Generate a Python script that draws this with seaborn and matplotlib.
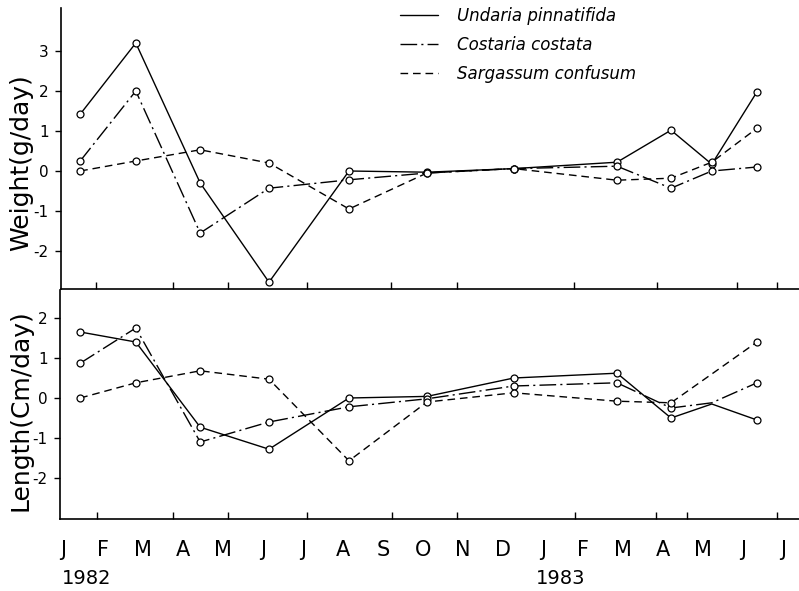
import matplotlib
matplotlib.use("Agg")
import matplotlib.pyplot as plt
import seaborn as sns
import pandas as pd
from matplotlib.lines import Line2D
from matplotlib.transforms import blended_transform_factory

# ---------------- data ----------------
species = ["Undaria pinnatifida", "Costaria costata", "Sargassum confusum"]
# sampling times in months from 1 Jan 1982
sample_month = [0.43, 1.82, 3.43, 5.15, 7.15, 9.1, 11.27, 13.85, 15.2, 16.22, 17.35]

weight_undaria = [1.42, 3.2, -0.3, -2.78, 0.0, -0.03, 0.06, 0.22, 1.02, 0.17, 1.98]
weight_costaria = [0.25, 2.0, -1.55, -0.43, -0.22, -0.05, 0.06, 0.12, -0.43, 0.0, 0.1]
weight_sargassum = [0.0, 0.25, 0.53, 0.2, -0.95, -0.05, 0.06, -0.23, -0.18, 0.22, 1.07]

length_undaria = [1.65, 1.4, -0.73, -1.28, 0.0, 0.04, 0.5, 0.62, -0.5, -0.15, -0.55]
length_costaria = [0.87, 1.75, -1.1, -0.6, -0.22, -0.02, 0.3, 0.38, -0.25, -0.12, 0.38]
length_sargassum = [0.0, 0.38, 0.68, 0.47, -1.57, -0.1, 0.13, -0.08, -0.12, 0.6, 1.4]

month_labels = ["J", "F", "M", "A", "M", "J", "J", "A", "S", "O", "N", "D",
                "J", "F", "M", "A", "M", "J", "J"]
year_labels = ["1982", "1983"]
year_pos = [0.6, 12.45]

weight_ticks = [3, 2, 1, 0, -1, -2]
length_ticks = [2, 1, 0, -1, -2]
weight_minor_x = [0.82, 2.75, 4.12, 6.1, 8.2, 9.85, 12.78, 14.85, 16.85, 17.85]
length_minor_x = [0.85, 2.75, 4.12, 6.1, 8.22, 9.85, 12.8, 14.82, 15.6, 17.85]


def long_df(u, c, s):
    rows = []
    for name, vals in zip(species, [u, c, s]):
        for m, v in zip(sample_month, vals):
            rows.append({"month": m, "value": v, "species": name})
    return pd.DataFrame(rows)


df_w = long_df(weight_undaria, weight_costaria, weight_sargassum)
df_l = long_df(length_undaria, length_costaria, length_sargassum)

# ---------------- style ----------------
sns.set_style("white")
plt.rcParams["font.family"] = ["DejaVu Sans"]
plt.rcParams["axes.unicode_minus"] = False
for k in ["text.color", "axes.labelcolor", "xtick.color", "ytick.color",
          "axes.edgecolor"]:
    plt.rcParams[k] = "black"

dash_map = {species[0]: "", species[1]: (12, 3, 1.5, 3), species[2]: (5.5, 3.5)}
marker_map = {s: "o" for s in species}

W, H = 799, 591
fig = plt.figure(figsize=(W / 100, H / 100), dpi=100)
ax1 = fig.add_axes([61 / W, 1 - 289 / H, 1 - 61 / W, (289 - 8) / H])
ax2 = fig.add_axes([60 / W, 1 - 519 / H, 1 - 60 / W, (519 - 290) / H])

line_kw = dict(color="black", linewidth=1.0, markersize=5,
               markerfacecolor="white", markeredgecolor="black",
               markeredgewidth=0.9, legend=False, errorbar=None)

sns.lineplot(data=df_w, x="month", y="value", style="species",
             dashes=dash_map, markers=marker_map, ax=ax1, **line_kw)
sns.lineplot(data=df_l, x="month", y="value", style="species",
             dashes=dash_map, markers=marker_map, ax=ax2,
             markevery=[0, 1, 2, 3, 4, 5, 6, 7, 8, 10], **line_kw)

for ax, xl, yl, yt, mx in [
    (ax1, (-0.05, 18.4), (-2.95, 4.075), weight_ticks, weight_minor_x),
    (ax2, (-0.075, 18.4), (-3.025, 2.7), length_ticks, length_minor_x),
]:
    ax.set_xlim(*xl)
    ax.set_ylim(*yl)
    ax.set_yticks(yt)
    ax.set_yticklabels([str(t) for t in yt], fontsize=11, color="black")
    ax.set_xlabel("")
    ax.set_ylabel("")
    for sp in ["top", "right"]:
        ax.spines[sp].set_visible(False)
    for sp in ["left", "bottom"]:
        ax.spines[sp].set_color("black")
        ax.spines[sp].set_linewidth(1.2)
    ax.tick_params(axis="y", direction="out", length=4, width=1,
                   color="black", pad=5, left=True)
    ax.set_xticks(mx, minor=True)
    ax.tick_params(axis="x", which="minor", direction="in", length=5,
                   width=1, color="black", bottom=True)
    ax.set_facecolor("white")

ax1.set_xticks(range(len(month_labels)))
ax1.tick_params(axis="x", which="major", length=0, labelbottom=False)
ax2.set_xticks(range(len(month_labels)))
ax2.set_xticklabels(month_labels, fontsize=15, color="black")
ax2.tick_params(axis="x", which="major", length=0, pad=15)

trans = blended_transform_factory(ax2.transData, ax2.transAxes)
for lab, pos in zip(year_labels, year_pos):
    ax2.text(pos, -0.258, lab, transform=trans, ha="center", va="center",
             fontsize=14, color="black")

fig.text(21 / W, 1 - 163 / H, "Weight(g/day)", rotation=90, ha="center",
         va="center", fontsize=18, color="black")
fig.text(21 / W, 1 - 410 / H, "Length(Cm/day)", rotation=90, ha="center",
         va="center", fontsize=18, color="black")

handles = [Line2D([], [], color="black", lw=1.0, linestyle="-"),
           Line2D([], [], color="black", lw=1.0, dashes=dash_map[species[1]]),
           Line2D([], [], color="black", lw=1.0, dashes=dash_map[species[2]])]
leg = fig.legend(handles, species, loc="upper left",
                 bbox_to_anchor=(400 / W, 1 - 7 / H), frameon=False,
                 prop={"style": "italic", "size": 12}, handlelength=2.3,
                 handletextpad=1.1, labelspacing=0.65, borderpad=0,
                 borderaxespad=0, labelcolor="black")

fig.savefig("out.png", dpi=100, facecolor="white")
